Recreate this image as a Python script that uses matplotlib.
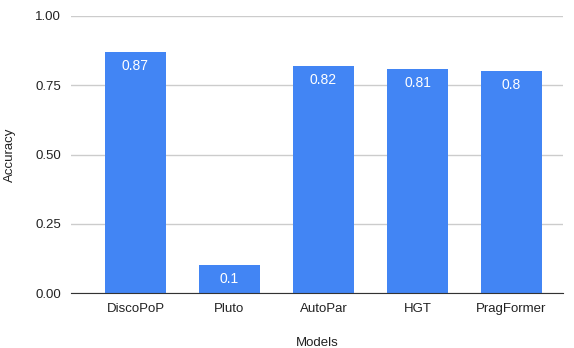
import matplotlib.pyplot as plt
import numpy as np

# Datos
models = ["DiscoPoP", "Pluto", "AutoPar", "HGT", "PragFormer"]
accuracy = [0.87, 0.1, 0.82, 0.81, 0.8]
labels = ["0.87", "0.1", "0.82", "0.81", "0.8"]
yticks = [0.0, 0.25, 0.5, 0.75, 1.0]

plt.rcParams['font.family'] = ['Liberation Sans', 'DejaVu Sans']

fig = plt.figure(figsize=(5.74, 3.48), dpi=100)
ax = fig.add_axes([71 / 574, 1 - 293 / 348, 492 / 574, 277 / 348])

x = np.arange(len(models))
bars = ax.bar(x, accuracy, width=0.65, color='#4285F4', zorder=3)

# Etiquetas dentro de las barras
for b, lab in zip(bars, labels):
    ax.text(b.get_x() + b.get_width() / 2, b.get_height() - 0.025, lab,
            ha='center', va='top', color='white', fontsize=10, zorder=4)

ax.set_xlim(-0.686, 4.548)
ax.set_ylim(0, 1.0)
ax.set_yticks(yticks)
ax.set_yticklabels([f"{v:.2f}" for v in yticks])
ax.set_xticks(x)
ax.set_xticklabels(models)

ax.grid(axis='y', color='#cccccc', linewidth=1, zorder=0)
for s in ['top', 'right', 'left']:
    ax.spines[s].set_visible(False)
ax.spines['bottom'].set_color('#333333')
ax.spines['bottom'].set_zorder(5)
ax.tick_params(axis='both', length=0, labelsize=9.5, colors='#222222')
ax.tick_params(axis='y', pad=7)
ax.tick_params(axis='x', pad=7)

ax.set_xlabel("Models", fontsize=9.5, color='#222222', labelpad=16)
ax.set_ylabel("Accuracy", fontsize=9.5, color='#222222')
ax.yaxis.set_label_coords(-0.112, 0.5)

fig.savefig("out.png", dpi=100)
